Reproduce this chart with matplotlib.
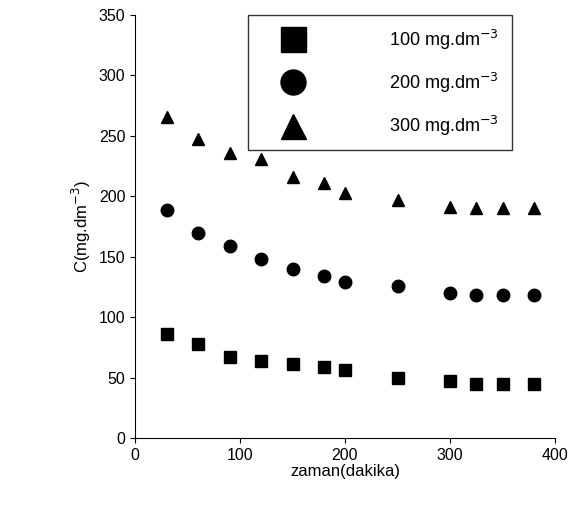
import matplotlib
matplotlib.use('Agg')
import matplotlib.pyplot as plt

plt.rcParams['font.family'] = ['Liberation Sans', 'DejaVu Sans']

zaman = [30, 60, 90, 120, 150, 180, 200, 250, 300, 325, 350, 380]
c100 = [86, 78, 67, 64, 61, 59, 56, 50, 47, 45, 45, 45]
c200 = [189, 170, 159, 148, 140, 134, 129, 126, 120, 118, 118, 118]
c300 = [266, 247, 236, 231, 216, 211, 203, 197, 191, 190, 190, 190]

fig = plt.figure(figsize=(5.71, 5.15), dpi=100)
ax = fig.add_axes([135 / 571, 77 / 515, 420 / 571, 423 / 515])

ax.plot(zaman, c100, 's', color='black', markersize=9, label='100 mg.dm$^{-3}$')
ax.plot(zaman, c200, 'o', color='black', markersize=9, label='200 mg.dm$^{-3}$')
ax.plot(zaman, c300, '^', color='black', markersize=9, label='300 mg.dm$^{-3}$')

ax.set_xlim(0, 400)
ax.set_ylim(0, 350)
ax.set_xticks([0, 100, 200, 300, 400])
ax.set_yticks(range(0, 351, 50))
ax.spines['top'].set_visible(False)
ax.spines['right'].set_visible(False)
ax.tick_params(labelsize=11.5, direction='out')
ax.set_xlabel('zaman(dakika)', fontsize=12, labelpad=1)
ax.set_ylabel('C(mg.dm$^{-3}$)', fontsize=12)

leg = ax.legend(loc='upper left', bbox_to_anchor=(0.27, 1.0), fontsize=13,
                markerscale=2.0, frameon=True, fancybox=False, edgecolor='black',
                borderpad=0.7, labelspacing=1.05, handlelength=3.5,
                handletextpad=3.6, borderaxespad=0)
leg.get_frame().set_linewidth(1.0)

fig.savefig('out.png', dpi=100)
